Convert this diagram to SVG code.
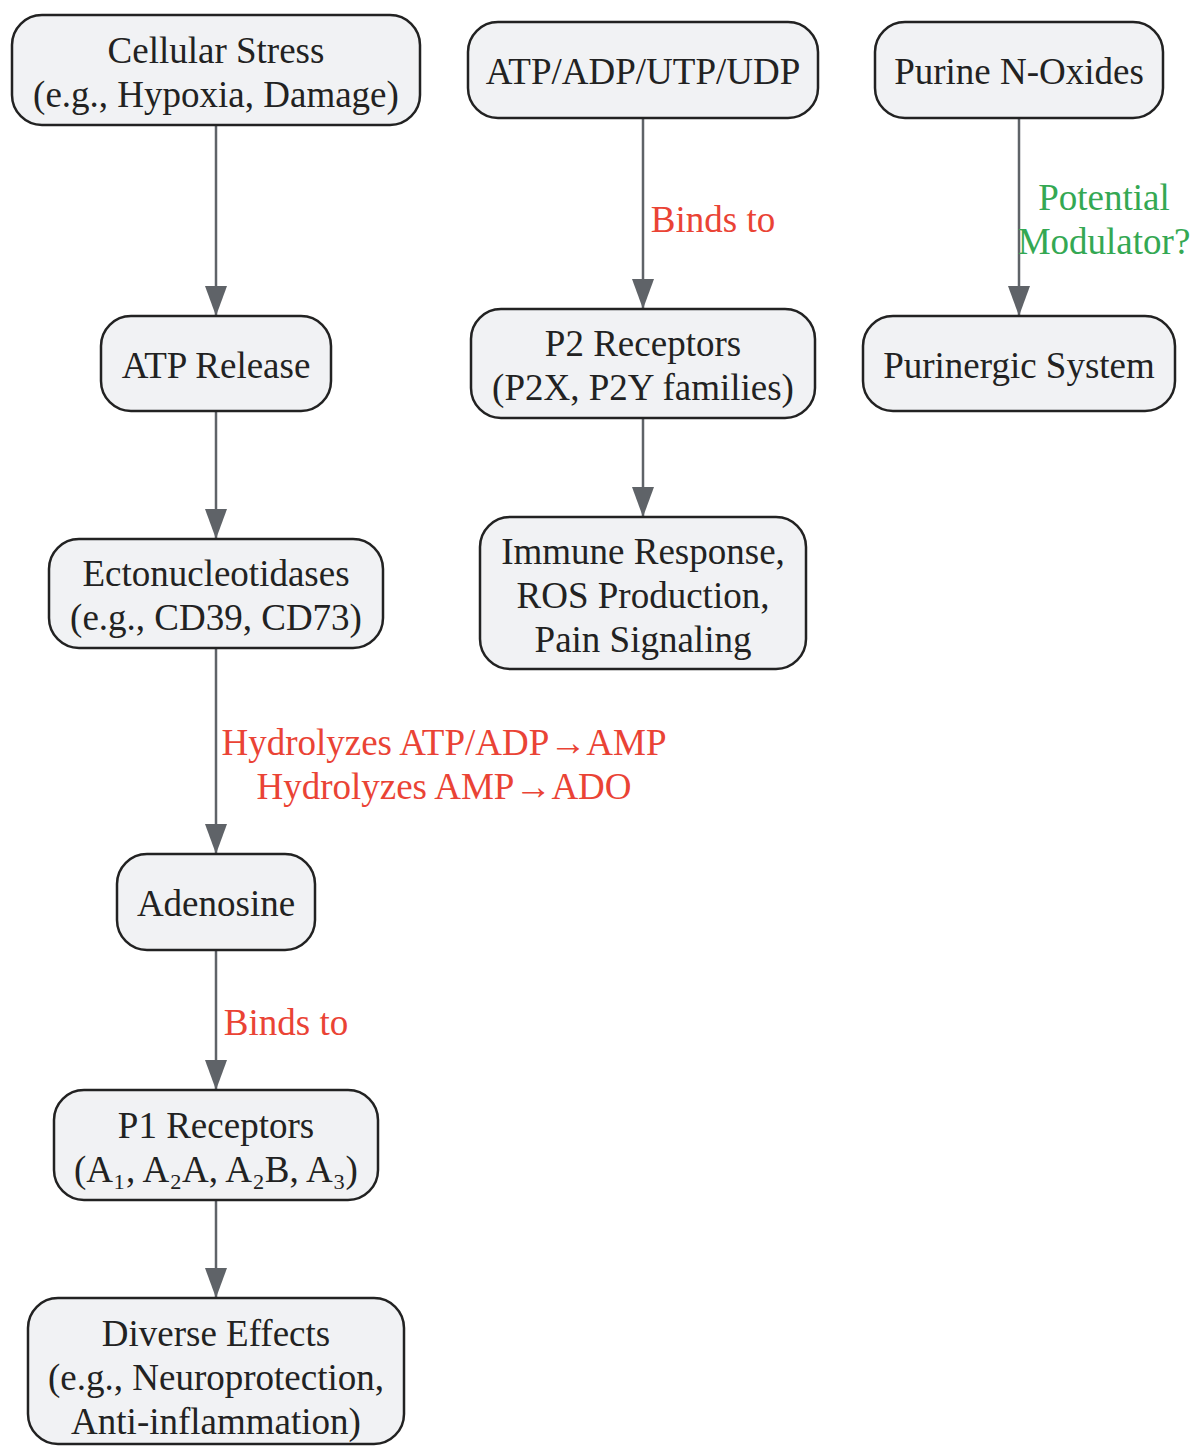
<svg xmlns="http://www.w3.org/2000/svg" width="1193" height="1446" viewBox="0 0 1193 1446">
<style>
.n rect{fill:#f1f2f4;stroke:#222;stroke-width:2.5}
.n text,.l{font-family:"Liberation Serif","Times New Roman",serif;font-size:37px;text-anchor:middle}
.n text{fill:#222}
.e{stroke:#5f6368;stroke-width:2.5;fill:none;marker-end:url(#ah)}
.r{fill:#ea4335}
.g{fill:#34a853}
</style>
<defs>
<marker id="ah" markerUnits="userSpaceOnUse" viewBox="0 0 30 22" refX="29" refY="11" markerWidth="30" markerHeight="22" orient="auto">
<path d="M0,0 L30,11 L0,22 Z" fill="#5f6368"/>
</marker>
</defs>
<rect width="1193" height="1446" fill="#fff"/>
<g id="edges">
<line class="e" x1="216" y1="126" x2="216" y2="315"/>
<line class="e" x1="216" y1="412" x2="216" y2="538"/>
<line class="e" x1="216" y1="649" x2="216" y2="853"/>
<line class="e" x1="216" y1="951" x2="216" y2="1089"/>
<line class="e" x1="216" y1="1201" x2="216" y2="1297"/>
<line class="e" x1="643" y1="119" x2="643" y2="308"/>
<line class="e" x1="643" y1="419" x2="643" y2="516"/>
<line class="e" x1="1019" y1="119" x2="1019" y2="315"/>
<text class="l r" x="713" y="232">Binds to</text>
<text class="l g" x="1104" y="210">Potential</text>
<text class="l g" x="1104" y="254">Modulator?</text>
<text class="l r" x="444" y="755">Hydrolyzes ATP/ADP→AMP</text>
<text class="l r" x="444" y="799">Hydrolyzes AMP→ADO</text>
<text class="l r" x="286" y="1035">Binds to</text>
</g>
<g id="cellular" class="n"><rect x="12" y="15" width="408" height="110" rx="30"/><text x="216" y="63">Cellular Stress</text><text x="216" y="107">(e.g., Hypoxia, Damage)</text></g>
<g id="atprelease" class="n"><rect x="101" y="316" width="230" height="95" rx="30"/><text x="216" y="378">ATP Release</text></g>
<g id="ecto" class="n"><rect x="49" y="539" width="334" height="109" rx="30"/><text x="216" y="586">Ectonucleotidases</text><text x="216" y="630">(e.g., CD39, CD73)</text></g>
<g id="adenosine" class="n"><rect x="117" y="854" width="198" height="96" rx="30"/><text x="216" y="916">Adenosine</text></g>
<g id="p1" class="n"><rect x="54" y="1090" width="324" height="110" rx="30"/><text x="216" y="1138">P1 Receptors</text><text x="216" y="1182">(A₁, A₂A, A₂B, A₃)</text></g>
<g id="diverse" class="n"><rect x="28" y="1298" width="376" height="146" rx="30"/><text x="216" y="1346">Diverse Effects</text><text x="216" y="1390">(e.g., Neuroprotection,</text><text x="216" y="1434">Anti-inflammation)</text></g>
<g id="atpadp" class="n"><rect x="468" y="22" width="350" height="96" rx="30"/><text x="643" y="84">ATP/ADP/UTP/UDP</text></g>
<g id="p2" class="n"><rect x="471" y="309" width="344" height="109" rx="30"/><text x="643" y="356">P2 Receptors</text><text x="643" y="400">(P2X, P2Y families)</text></g>
<g id="immune" class="n"><rect x="480" y="517" width="326" height="152" rx="30"/><text x="643" y="564">Immune Response,</text><text x="643" y="608">ROS Production,</text><text x="643" y="652">Pain Signaling</text></g>
<g id="noxides" class="n"><rect x="875" y="22" width="288" height="96" rx="30"/><text x="1019" y="84">Purine N-Oxides</text></g>
<g id="purinergic" class="n"><rect x="863" y="316" width="312" height="95" rx="30"/><text x="1019" y="378">Purinergic System</text></g>
</svg>
